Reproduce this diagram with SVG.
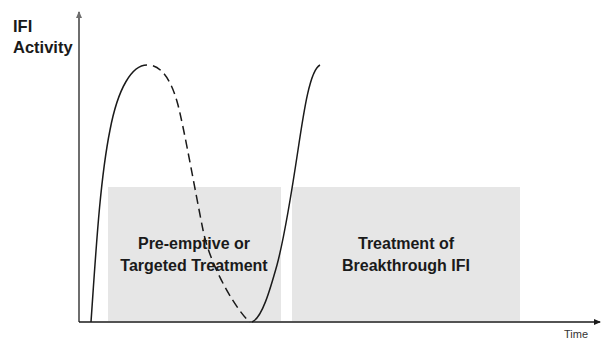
<svg xmlns="http://www.w3.org/2000/svg" width="603" height="340" viewBox="0 0 603 340">
<defs>
<style>
.box{fill:#e6e6e6;stroke:none}
.lbl{font-family:"Liberation Sans",Arial,sans-serif;font-weight:bold;font-size:16px;fill:#1a1a1a;text-anchor:middle}
.ax{font-family:"Liberation Sans",Arial,sans-serif;font-weight:bold;font-size:16.5px;fill:#1a1a1a}
.curve{fill:none;stroke:#1a1a1a;stroke-width:1.5}
.dash{stroke-dasharray:9,5;stroke-dashoffset:9}
</style>
<marker id="arrY" markerWidth="8" markerHeight="8" refX="6" refY="4" orient="auto" markerUnits="userSpaceOnUse">
<path d="M0,1 L7,4 L0,7 Z" fill="#6e6e6e"/>
</marker>
<marker id="arrX" markerWidth="8" markerHeight="8" refX="6" refY="4" orient="auto" markerUnits="userSpaceOnUse">
<path d="M0,1 L7,4 L0,7 Z" fill="#1a1a1a"/>
</marker>
</defs>
<rect width="603" height="340" fill="#ffffff"/>
<g id="box-preemptive">
<rect class="box" x="108" y="187" width="173" height="134"/>
<text class="lbl" x="194" y="249">Pre-emptive or</text>
<text class="lbl" x="194" y="271">Targeted Treatment</text>
</g>
<g id="box-breakthrough">
<rect class="box" x="292" y="187" width="228" height="134"/>
<text class="lbl" x="406" y="249">Treatment of</text>
<text class="lbl" x="406" y="271">Breakthrough IFI</text>
</g>
<g id="connectors">
<path class="curve" d="M91,322 C96,250 100,180 110,130 C118,88 132,65 147,65"/>
<path class="curve dash" d="M148,65 C162,65 172,82 178,105 C184,128 195,190 203,230 C211,270 240,315 250,322"/>
<path class="curve" d="M252,322 C262,318 270,290 277,265 C285,235 292,190 298,150 C304,110 310,70 320,65"/>
<line x1="79" y1="322" x2="79" y2="12" stroke="#6e6e6e" stroke-width="2" marker-end="url(#arrY)"/>
<line x1="79" y1="322" x2="600" y2="322" stroke="#1a1a1a" stroke-width="1.5" marker-end="url(#arrX)"/>
</g>
<g id="axis-labels">
<text class="ax" x="13" y="32">IFI</text>
<text class="ax" x="13" y="53">Activity</text>
<text x="564" y="338" font-family="Liberation Sans,Arial,sans-serif" font-size="11" fill="#333333">Time</text>
</g>
</svg>
